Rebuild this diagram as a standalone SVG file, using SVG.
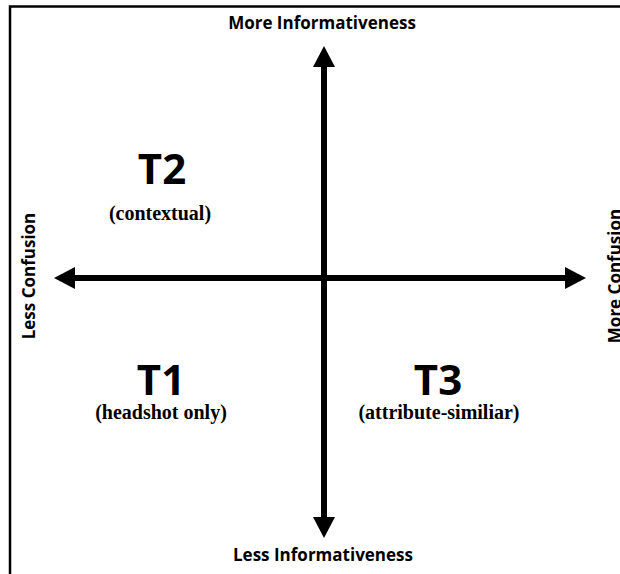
<svg xmlns="http://www.w3.org/2000/svg" width="620" height="574" viewBox="0 0 620 574">
<style>
.axis{stroke:#000;stroke-width:6;fill:none}
.lbl{font-family:"Open Sans","Liberation Sans",sans-serif;font-weight:700;font-size:17px;fill:#000}
.big{font-family:"Open Sans","Liberation Sans",sans-serif;font-weight:700;font-size:42px;fill:#000}
.sub{font-family:"Liberation Serif","Times New Roman",serif;font-weight:700;font-size:20px;fill:#000}
</style>
<defs>
<marker id="ah" markerUnits="userSpaceOnUse" markerWidth="24" markerHeight="24" viewBox="0 -12 24 24" refX="1" refY="0" orient="auto-start-reverse">
<path d="M0,-11 L21,0 L0,11 z" fill="#000"/>
</marker>
</defs>
<rect width="620" height="574" fill="#fff"/>
<path d="M10,574 V6.5 H620" fill="none" stroke="#000" stroke-width="2.5"/>
<g id="connectors">
<line class="axis" x1="324" y1="66" x2="324" y2="518" marker-start="url(#ah)" marker-end="url(#ah)"/>
<line class="axis" x1="74" y1="278" x2="566" y2="278" marker-start="url(#ah)" marker-end="url(#ah)"/>
</g>
<g id="label-top"><text class="lbl" x="322" y="29" text-anchor="middle">More Informativeness</text></g>
<g id="label-bottom"><text class="lbl" x="323" y="561" text-anchor="middle">Less Informativeness</text></g>
<g id="label-left"><text class="lbl" transform="translate(35,276) rotate(-90)" text-anchor="middle">Less Confusion</text></g>
<g id="label-right"><text class="lbl" transform="translate(621,276) rotate(-90)" text-anchor="middle">More Confusion</text></g>
<g id="T2"><text class="big" x="162" y="184" text-anchor="middle">T2</text><text class="sub" x="160" y="220" text-anchor="middle">(contextual)</text></g>
<g id="T1"><text class="big" x="161" y="395" text-anchor="middle">T1</text><text class="sub" x="161" y="419" text-anchor="middle">(headshot only)</text></g>
<g id="T3"><text class="big" x="438" y="395" text-anchor="middle">T3</text><text class="sub" x="439" y="419" text-anchor="middle">(attribute-similiar)</text></g>
</svg>
